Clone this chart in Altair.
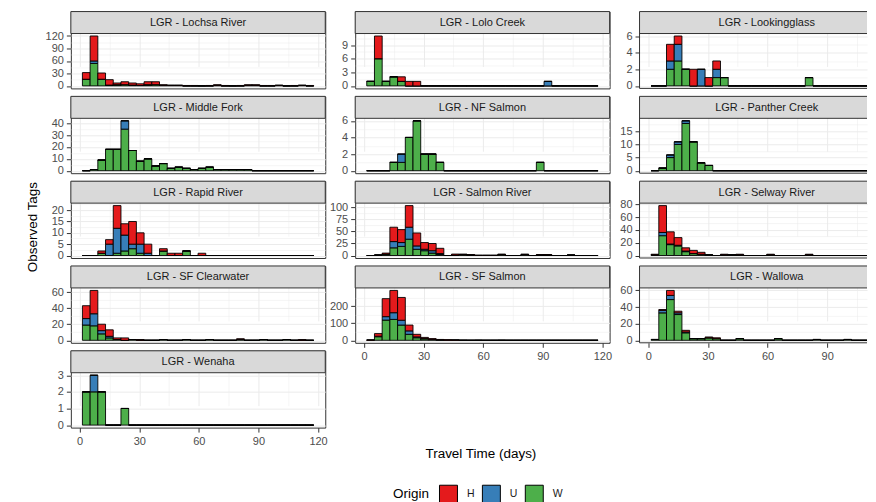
import altair as alt
import pandas as pd

FONT = "Liberation Sans"
ORIGINS = ["H", "U", "W"]
COLORS = ["#E41A1C", "#377EB8", "#4DAF4A"]
BIN_START = 1.4
BIN_WIDTH = 3.88
N_BINS = 30
X_TICKS = [0, 30, 60, 90, 120]

# ---- data: counts per 30 histogram bins, by origin ----
LOCHSA_H = [16, 60, 15, 13, 4, 7, 5, 4, 7, 7, 2, 1, 1, 1, 1, 0, 1, 2, 1, 0, 1, 2, 2, 1, 1, 1, 0, 1, 1, 1]
LOCHSA_U = [0, 6, 0, 0, 1, 0, 0, 0, 1, 0, 0, 0, 0, 0, 0, 0, 0, 0, 0, 0, 0, 0, 0, 0, 0, 0, 0, 0, 0, 0]
LOCHSA_W = [16, 54, 16, 2, 2, 3, 2, 1, 2, 3, 1, 1, 1, 0, 0, 0, 0, 1, 0, 0, 0, 1, 1, 0, 0, 1, 0, 0, 1, 0]

LOLO_H = [0, 5, 0, 0, 1, 1, 1, 0, 0, 0, 0, 0, 0, 0, 0, 0, 0, 0, 0, 0, 0, 0, 0, 0, 0, 0, 0, 0, 0, 0]
LOLO_U = [0, 0, 0, 0, 0, 0, 0, 0, 0, 0, 0, 0, 0, 0, 0, 0, 0, 0, 0, 0, 0, 0, 0, 1, 0, 0, 0, 0, 0, 0]
LOLO_W = [1, 6, 1, 2, 1, 0, 0, 0, 0, 0, 0, 0, 0, 0, 0, 0, 0, 0, 0, 0, 0, 0, 0, 0, 0, 0, 0, 0, 0, 0]

LOOKING_H = [0, 0, 2, 1, 0, 2, 0, 1, 1, 0, 0, 0, 0, 0, 0, 0, 0, 0, 0, 0, 0, 0, 0, 0, 0, 0, 0, 0, 0, 0]
LOOKING_U = [0, 0, 1, 2, 0, 0, 2, 0, 1, 0, 0, 0, 0, 0, 0, 0, 0, 0, 0, 0, 0, 0, 0, 0, 0, 0, 0, 0, 0, 0]
LOOKING_W = [0, 0, 2, 3, 2, 0, 0, 0, 1, 1, 0, 0, 0, 0, 0, 0, 0, 0, 0, 0, 1, 0, 0, 0, 0, 0, 0, 0, 0, 0]

MIDFORK_H = [0] * 30
MIDFORK_U = [0, 0, 0, 0, 0, 7, 0, 0, 0, 0, 0, 0, 0, 0, 0, 0, 0, 0, 0, 0, 0, 0, 0, 0, 0, 0, 0, 0, 0, 0]
MIDFORK_W = [0, 1, 9, 18, 18, 35, 17, 8, 10, 4, 6, 2, 3, 2, 1, 2, 3, 1, 1, 1, 1, 1, 0, 0, 0, 0, 0, 0, 0, 0]

NFSALMON_H = [0] * 30
NFSALMON_U = [0, 0, 0, 0, 1, 0, 0, 0, 0, 0, 0, 0, 0, 0, 0, 0, 0, 0, 0, 0, 0, 0, 0, 0, 0, 0, 0, 0, 0, 0]
NFSALMON_W = [0, 0, 0, 1, 1, 4, 6, 2, 2, 1, 0, 0, 0, 0, 0, 0, 0, 0, 0, 0, 0, 0, 1, 0, 0, 0, 0, 0, 0, 0]

PANTHER_H = [0] * 30
PANTHER_U = [0, 0, 1, 1, 1, 0, 0, 0, 0, 0, 0, 0, 0, 0, 0, 0, 0, 0, 0, 0, 0, 0, 0, 0, 0, 0, 0, 0, 0, 0]
PANTHER_W = [0, 1, 5, 10, 18, 11, 3, 2, 0, 0, 0, 0, 0, 0, 0, 0, 0, 0, 0, 0, 0, 0, 0, 0, 0, 0, 0, 0, 0, 0]

RAPID_H = [0, 0, 1, 2, 10, 5, 10, 5, 4, 0, 1, 1, 1, 0, 0, 1, 0, 0, 0, 0, 0, 0, 0, 0, 0, 0, 0, 0, 0, 0]
RAPID_U = [0, 0, 0, 5, 11, 7, 2, 4, 1, 0, 0, 0, 0, 0, 0, 0, 0, 0, 0, 0, 0, 0, 0, 0, 0, 0, 0, 0, 0, 0]
RAPID_W = [0, 0, 1, 0, 1, 2, 3, 1, 0, 0, 2, 0, 0, 2, 0, 0, 0, 0, 0, 0, 0, 0, 0, 0, 0, 0, 0, 0, 0, 0]

SALMON_H = [0, 0, 2, 30, 27, 45, 27, 14, 15, 11, 0, 2, 1, 1, 1, 1, 1, 1, 0, 0, 1, 0, 1, 1, 0, 0, 0, 0, 0, 0]
SALMON_U = [0, 0, 0, 13, 8, 25, 7, 3, 5, 2, 0, 0, 0, 0, 0, 0, 0, 0, 0, 0, 0, 0, 0, 0, 0, 0, 0, 0, 0, 0]
SALMON_W = [0, 1, 3, 16, 19, 34, 13, 10, 5, 2, 0, 1, 2, 1, 0, 0, 0, 2, 0, 0, 2, 0, 1, 1, 0, 0, 1, 0, 0, 0]

SELWAY_H = [1, 42, 19, 12, 5, 5, 3, 0, 0, 1, 0, 1, 0, 0, 0, 1, 0, 0, 0, 0, 1, 0, 0, 0, 0, 0, 0, 0, 0, 0]
SELWAY_U = [0, 5, 1, 1, 1, 0, 0, 0, 0, 0, 0, 0, 0, 0, 0, 0, 0, 0, 0, 0, 0, 0, 0, 0, 0, 0, 0, 0, 0, 0]
SELWAY_W = [1, 31, 17, 15, 6, 3, 2, 1, 0, 1, 1, 1, 0, 0, 0, 1, 0, 0, 0, 0, 1, 0, 0, 0, 0, 0, 0, 0, 0, 0]

SFCLEAR_H = [16, 29, 8, 8, 2, 3, 0, 1, 0, 0, 0, 0, 0, 0, 0, 0, 0, 0, 0, 0, 1, 0, 0, 0, 0, 0, 0, 0, 1, 0]
SFCLEAR_U = [8, 15, 4, 2, 0, 0, 0, 0, 0, 0, 0, 0, 0, 0, 0, 0, 0, 0, 0, 0, 0, 0, 0, 0, 0, 0, 0, 0, 0, 0]
SFCLEAR_W = [19, 18, 8, 3, 1, 0, 1, 0, 0, 0, 1, 0, 0, 1, 0, 0, 1, 0, 0, 0, 1, 0, 0, 1, 0, 0, 1, 0, 0, 0]

SFSALMON_H = [1, 15, 105, 130, 133, 34, 15, 6, 5, 3, 2, 1, 1, 0, 1, 0, 0, 1, 0, 0, 0, 0, 0, 0, 0, 0, 0, 0, 0, 0]
SFSALMON_U = [0, 3, 20, 39, 28, 20, 5, 3, 1, 0, 0, 0, 0, 0, 0, 0, 0, 0, 0, 0, 0, 0, 0, 0, 0, 0, 0, 0, 0, 0]
SFSALMON_W = [1, 21, 118, 122, 89, 35, 15, 8, 4, 2, 1, 1, 0, 0, 0, 0, 0, 0, 0, 0, 0, 0, 0, 0, 0, 0, 0, 0, 0, 0]

WALLOWA_H = [0, 1, 6, 2, 2, 0, 0, 1, 1, 0, 0, 0, 0, 0, 0, 0, 0, 0, 0, 0, 0, 0, 0, 0, 0, 0, 0, 0, 0, 0]
WALLOWA_U = [0, 3, 5, 2, 1, 0, 0, 0, 0, 0, 0, 0, 0, 0, 0, 0, 0, 0, 0, 0, 0, 0, 0, 0, 0, 0, 0, 0, 0, 0]
WALLOWA_W = [1, 33, 49, 31, 9, 2, 2, 3, 2, 0, 0, 2, 0, 0, 0, 0, 2, 0, 0, 0, 0, 1, 0, 0, 0, 1, 0, 0, 0, 0]

WENAHA_H = [0] * 30
WENAHA_U = [0, 1, 0, 0, 0, 0, 0, 0, 0, 0, 0, 0, 0, 0, 0, 0, 0, 0, 0, 0, 0, 0, 0, 0, 0, 0, 0, 0, 0, 0]
WENAHA_W = [2, 2, 2, 0, 0, 1, 0, 0, 0, 0, 0, 0, 0, 0, 0, 0, 0, 0, 0, 0, 0, 0, 0, 0, 0, 0, 0, 0, 0, 0]

Y_LOCHSA = [0, 30, 60, 90, 120]
Y_LOLO = [0, 3, 6, 9]
Y_LOOKING = [0, 2, 4, 6]
Y_MIDFORK = [0, 10, 20, 30, 40]
Y_NFSALMON = [0, 2, 4, 6]
Y_PANTHER = [0, 5, 10, 15]
Y_RAPID = [0, 5, 10, 15, 20]
Y_SALMON = [0, 25, 50, 75, 100]
Y_SELWAY = [0, 20, 40, 60, 80]
Y_SFCLEAR = [0, 20, 40, 60]
Y_SFSALMON = [0, 100, 200]
Y_WALLOWA = [0, 20, 40, 60]
Y_WENAHA = [0, 1, 2, 3]

Y_TITLE = "Observed Tags"
X_TITLE = "Travel Time (days)"

# ---- layout ----
W_PANEL = 255
W_CUT = 228          # third column runs off the right edge of the picture
STRIP_H = 22
PLOT_H = 55
PANEL_H = STRIP_H + PLOT_H
BORDER = "#333333"

x_lo = BIN_START
x_hi = BIN_START + N_BINS * BIN_WIDTH
x_pad = 0.05 * (x_hi - x_lo)
XDOM = [x_lo - x_pad, x_hi + x_pad]


def minor_between(majors, lo, hi):
    step = majors[1] - majors[0]
    ext = [majors[0] - step] + list(majors) + [majors[-1] + step]
    mids = [(a + b) / 2 for a, b in zip(ext[:-1], ext[1:])]
    return [m for m in mids if lo <= m <= hi]


def stack_frame(h, u, w):
    rows = []
    for k in range(N_BINS):
        x0 = BIN_START + k * BIN_WIDTH
        base = 0
        for origin, vals in (("W", w), ("U", u), ("H", h)):
            v = vals[k]
            rows.append({"x0": x0, "x1": x0 + BIN_WIDTH, "y0": base, "y1": base + v, "origin": origin})
            base += v
    return pd.DataFrame(rows)


LEGEND = alt.Legend(
    title="Origin", orient="none", legendX=323, legendY=474, direction="horizontal",
    titleOrient="left", symbolType="square", symbolSize=324, symbolStrokeColor="black",
    symbolStrokeWidth=1, symbolOpacity=1, labelFont=FONT, labelFontSize=10.5, labelColor="#1A1A1A",
    titleFont=FONT, titleFontSize=13.5, titleFontWeight="normal", titleColor="black",
    columnPadding=5, labelOffset=9, titlePadding=9,
)


def cond(test, a, b):
    return {"condition": {"test": test, "value": a}, "value": b}


def panel(name, h, u, w, yticks, show_x=False, extra=None, cut=False):
    width = W_CUT if cut else W_PANEL
    xdom = [XDOM[0], XDOM[0] + (XDOM[1] - XDOM[0]) * width / W_PANEL]
    df = stack_frame(h, u, w)
    top = float(df["y1"].max())
    ydom = [-0.05 * top, 1.05 * top]
    ystep = yticks[1] - yticks[0]
    yvals = sorted(yticks + minor_between(yticks, ydom[0], ydom[1]))
    ytest = f"datum.value % {ystep} === 0"
    yaxis = alt.Axis(
        values=yvals, title=None, domain=False, format="d",
        labelExpr=f"({ytest}) ? datum.label : ''",
        tickOpacity=cond(ytest, 1, 0), gridWidth=cond(ytest, 1, 0.5),
    )
    xvals = [v for v in sorted(X_TICKS + minor_between(X_TICKS, XDOM[0], XDOM[1]))
             if xdom[0] <= v <= xdom[1]]
    xtest = "datum.value % 30 === 0"
    if show_x:
        xaxis = alt.Axis(
            values=xvals, title=None, domain=False, format="d",
            labelExpr=f"({xtest}) ? datum.label : ''",
            tickOpacity=cond(xtest, 1, 0), gridWidth=cond(xtest, 1, 0.5),
        )
    else:
        xaxis = alt.Axis(values=xvals, title=None, domain=False, labels=False, ticks=False,
                         gridWidth=cond(xtest, 1, 0.5))
    bars = alt.Chart(df).mark_rect(stroke="black", strokeWidth=0.9, clip=True).encode(
        x=alt.X("x0:Q", scale=alt.Scale(domain=xdom, nice=False, zero=False), axis=xaxis),
        x2="x1",
        y=alt.Y("y0:Q", scale=alt.Scale(domain=ydom, nice=False, zero=False,
                                        range=[PANEL_H, STRIP_H]), axis=yaxis),
        y2="y1",
        color=alt.Color("origin:N", scale=alt.Scale(domain=ORIGINS, range=COLORS), legend=LEGEND),
    )
    lab = alt.Chart(pd.DataFrame({"label": [name]}))
    if cut:
        strip = lab.mark_rect(fill="#D9D9D9", strokeWidth=0).encode(
            x=alt.value(0), x2=alt.value(width), y=alt.value(0), y2=alt.value(STRIP_H))
    else:
        strip = lab.mark_rect(fill="#D9D9D9", stroke=BORDER, strokeWidth=1).encode(
            x=alt.value(0), x2=alt.value(width), y=alt.value(0), y2=alt.value(STRIP_H))
    strip_txt = lab.mark_text(font=FONT, fontSize=11, color="#1A1A1A", baseline="middle").encode(
        text="label:N", x=alt.value(W_PANEL / 2), y=alt.value(STRIP_H / 2 + 0.5))
    layers = [bars, strip, strip_txt]
    if cut:
        rule = lab.mark_rule(color=BORDER, strokeWidth=1)
        layers += [
            rule.encode(x=alt.value(0), y=alt.value(0), y2=alt.value(PANEL_H)),
            rule.encode(x=alt.value(0), x2=alt.value(width), y=alt.value(0)),
            rule.encode(x=alt.value(0), x2=alt.value(width), y=alt.value(STRIP_H)),
            rule.encode(x=alt.value(0), x2=alt.value(width), y=alt.value(PANEL_H)),
        ]
        view = alt.ViewBackground(stroke="transparent")
    else:
        view = alt.ViewBackground(stroke=BORDER, strokeWidth=1)
    if extra:
        layers += extra
    return alt.layer(*layers).properties(width=width, height=PANEL_H, view=view)


ytitle = alt.Chart(pd.DataFrame({"t": [Y_TITLE]})).mark_text(
    font=FONT, fontSize=13.5, angle=270, color="black", baseline="middle").encode(
    text="t:N", x=alt.value(-38), y=alt.value(46))

xtitle = alt.Chart(pd.DataFrame({"t": [X_TITLE]})).mark_text(
    font=FONT, fontSize=13.5, color="black", baseline="middle").encode(
    text="t:N", x=alt.value(411), y=alt.value(103))

panels = [
    panel("LGR - Lochsa River", LOCHSA_H, LOCHSA_U, LOCHSA_W, Y_LOCHSA),
    panel("LGR - Lolo Creek", LOLO_H, LOLO_U, LOLO_W, Y_LOLO),
    panel("LGR - Lookingglass", LOOKING_H, LOOKING_U, LOOKING_W, Y_LOOKING, cut=True),
    panel("LGR - Middle Fork", MIDFORK_H, MIDFORK_U, MIDFORK_W, Y_MIDFORK),
    panel("LGR - NF Salmon", NFSALMON_H, NFSALMON_U, NFSALMON_W, Y_NFSALMON),
    panel("LGR - Panther Creek", PANTHER_H, PANTHER_U, PANTHER_W, Y_PANTHER, cut=True),
    panel("LGR - Rapid River", RAPID_H, RAPID_U, RAPID_W, Y_RAPID, extra=[ytitle]),
    panel("LGR - Salmon River", SALMON_H, SALMON_U, SALMON_W, Y_SALMON),
    panel("LGR - Selway River", SELWAY_H, SELWAY_U, SELWAY_W, Y_SELWAY, cut=True),
    panel("LGR - SF Clearwater", SFCLEAR_H, SFCLEAR_U, SFCLEAR_W, Y_SFCLEAR),
    panel("LGR - SF Salmon", SFSALMON_H, SFSALMON_U, SFSALMON_W, Y_SFSALMON, show_x=True),
    panel("LGR - Wallowa", WALLOWA_H, WALLOWA_U, WALLOWA_W, Y_WALLOWA, show_x=True, cut=True),
    panel("LGR - Wenaha", WENAHA_H, WENAHA_U, WENAHA_W, Y_WENAHA, show_x=True, extra=[xtitle]),
]

chart = alt.concat(
    *panels, columns=3, spacing={"row": 8, "column": 30}, bounds="flush"
).properties(
    padding={"left": 17, "top": 2, "right": 0, "bottom": 0}
).configure_view(stroke="transparent").configure_axis(
    labelFont=FONT, labelFontSize=11, labelColor="#4D4D4D", labelPadding=3,
    tickColor=BORDER, tickSize=4.5, tickWidth=1, gridColor="#EBEBEB",
)

chart.save("out.html", embed_options={"renderer": "svg", "actions": False})
